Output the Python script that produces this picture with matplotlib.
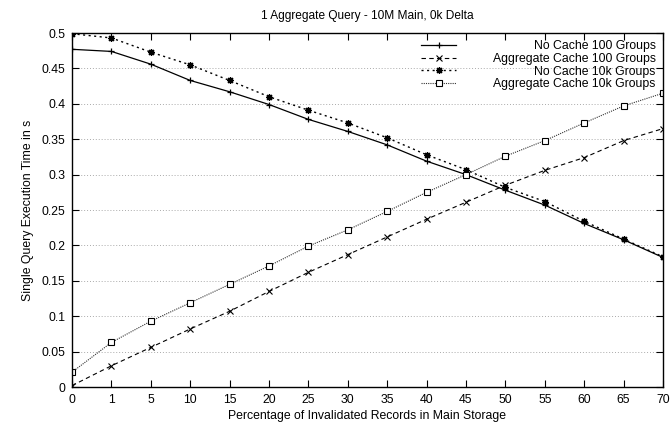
import matplotlib
matplotlib.use('Agg')
import matplotlib.pyplot as plt
import numpy as np

plt.rcParams['font.family'] = ['Liberation Sans', 'DejaVu Sans']
plt.rcParams['font.size'] = 8.8

# Prozent ungueltiger Datensaetze (kategoriale Achse)
percent = ['0', '1', '5', '10', '15', '20', '25', '30', '35',
           '40', '45', '50', '55', '60', '65', '70']

no_cache_100 = [0.477, 0.474, 0.456, 0.433, 0.417, 0.399, 0.378, 0.361,
                0.342, 0.319, 0.300, 0.278, 0.257, 0.231, 0.208, 0.183]
agg_cache_100 = [0.002, 0.030, 0.056, 0.082, 0.107, 0.135, 0.162, 0.187,
                 0.212, 0.237, 0.261, 0.285, 0.306, 0.324, 0.348, 0.365]
no_cache_10k = [0.499, 0.493, 0.473, 0.455, 0.433, 0.410, 0.391, 0.373,
                0.352, 0.328, 0.307, 0.282, 0.262, 0.234, 0.209, 0.184]
agg_cache_10k = [0.021, 0.063, 0.093, 0.119, 0.145, 0.171, 0.199, 0.222,
                 0.248, 0.275, 0.300, 0.326, 0.348, 0.373, 0.397, 0.415]

y_ticks = [0, 0.05, 0.1, 0.15, 0.2, 0.25, 0.3, 0.35, 0.4, 0.45, 0.5]
y_labels = ['0', '0.05', '0.1', '0.15', '0.2', '0.25', '0.3', '0.35',
            '0.4', '0.45', '0.5']

fig = plt.figure(figsize=(6.7, 4.26), dpi=100)
ax = fig.add_axes([0.1075, 0.0915, 0.882, 0.831])

x = np.arange(len(percent))

ax.plot(x, no_cache_100, color='black', linestyle='-', linewidth=0.9,
        marker='+', markersize=5, markeredgewidth=0.9,
        label='No Cache 100 Groups')
ax.plot(x, agg_cache_100, color='black', linestyle=(0, (4, 3)), linewidth=0.8,
        marker='x', markersize=4.5, markeredgewidth=0.8,
        label='Aggregate Cache 100 Groups')
ax.plot(x, no_cache_10k, color='black', linestyle=(0, (1.5, 2.5)), linewidth=1.0,
        marker=(8, 2, 0), markersize=5, markeredgewidth=0.9,
        label='No Cache 10k Groups')
ax.plot(x, agg_cache_10k, color='#333333', linestyle=(0, (1, 1)), linewidth=0.8,
        marker='s', markersize=4.5, markerfacecolor='white',
        markeredgecolor='black', markeredgewidth=0.8,
        label='Aggregate Cache 10k Groups')

ax.set_xlim(0, len(percent) - 1)
ax.set_ylim(0, 0.5)
ax.set_xticks(x)
ax.set_xticklabels(percent)
ax.set_yticks(y_ticks)
ax.set_yticklabels(y_labels)
ax.tick_params(direction='in', top=True, right=True, length=5, width=0.8,
               labelsize=8.8, pad=5)
for s in ax.spines.values():
    s.set_linewidth(1.0)

ax.yaxis.grid(True, linestyle=(0, (1, 2)), color='#aaaaaa', linewidth=0.7)
ax.set_axisbelow(True)

ax.set_title('1 Aggregate Query - 10M Main, 0k Delta', fontsize=8.6, pad=10)
ax.set_xlabel('Percentage of Invalidated Records in Main Storage', fontsize=8.8,
              labelpad=3)
ax.set_ylabel('Single Query Execution Time in s', fontsize=8.8, labelpad=5)

leg = ax.legend(loc='upper right', frameon=False, fontsize=8.8,
                handlelength=2.85, labelspacing=0.05, borderaxespad=0.3,
                borderpad=0.3, handletextpad=3.0)

# Beschriftung rechtsbuendig wie bei gnuplot
fig.canvas.draw()
renderer = fig.canvas.get_renderer()
widths = [t.get_window_extent(renderer).width for t in leg.get_texts()]
shift = max(widths)
for t, w in zip(leg.get_texts(), widths):
    t.set_position((shift - w, 0))

fig.savefig('out.png', dpi=100)
